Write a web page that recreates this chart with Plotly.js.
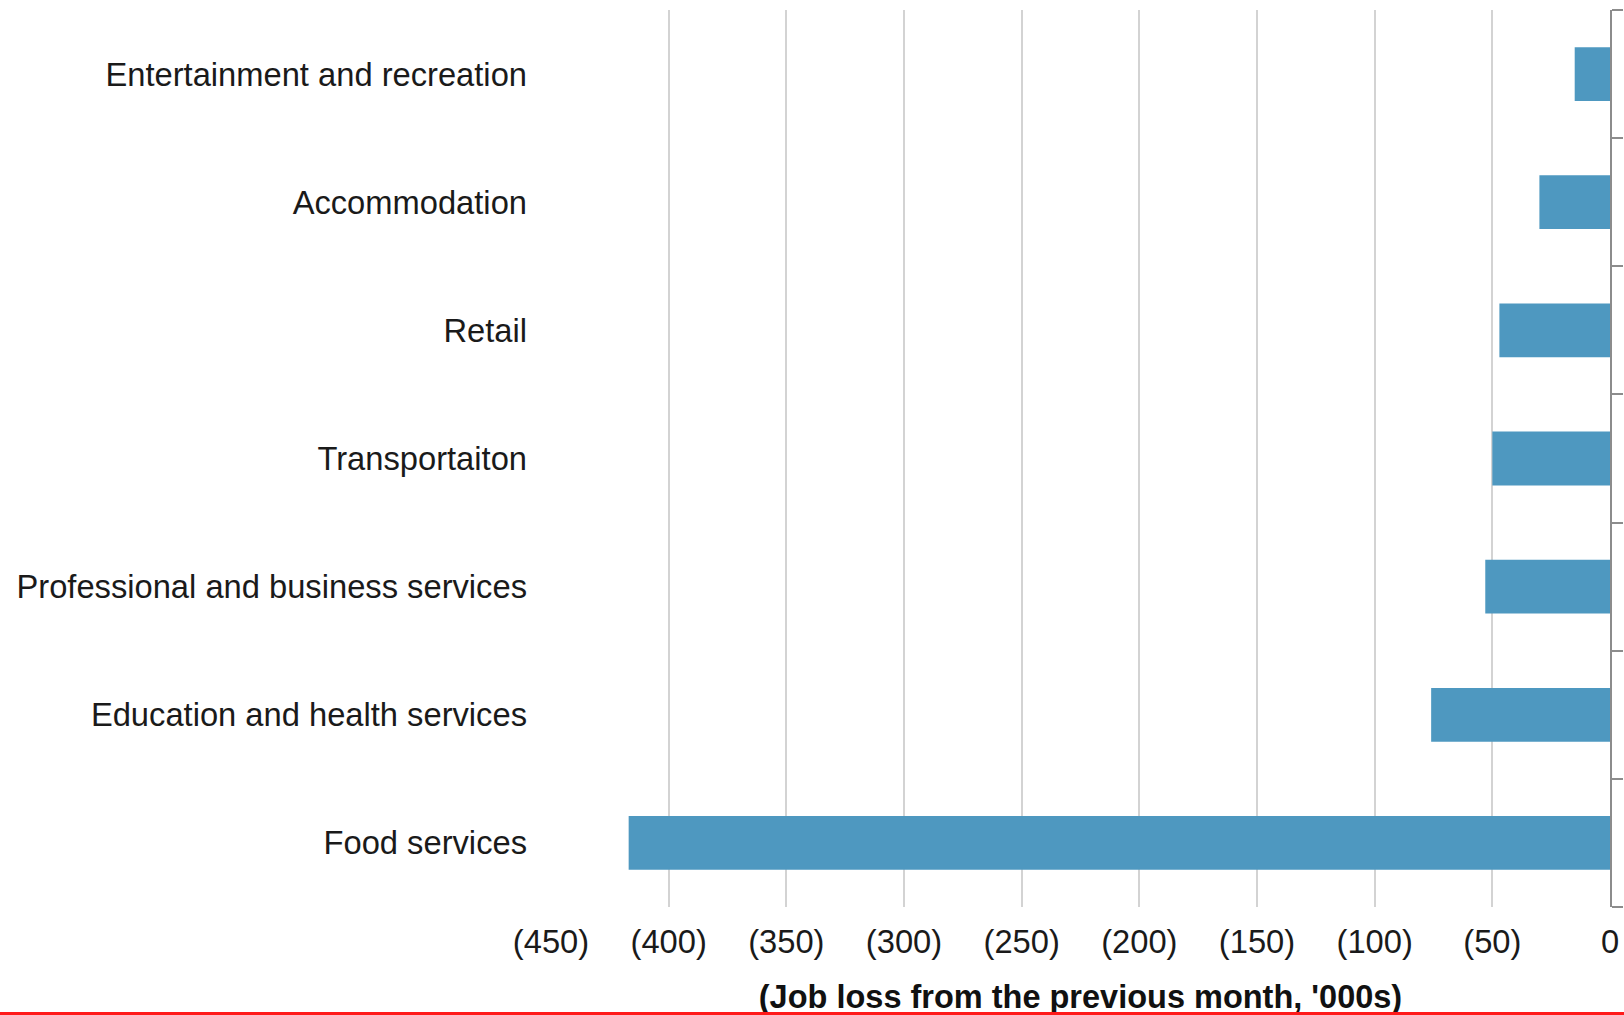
<!DOCTYPE html>
<html>
<head>
<meta charset="utf-8">
<script src="https://cdn.plot.ly/plotly-3.0.1.min.js"></script>
<style>
  html, body { margin: 0; padding: 0; background: #ffffff; overflow: hidden; }
  #chart { width: 1624px; height: 1015px; }
  #redline { position: absolute; left: 0; bottom: 0; width: 1624px; height: 3px; background: #ff1a1a; z-index: 10; }
</style>
</head>
<body>
<div id="chart"></div>
<div id="redline"></div>
<script>
// Data (top to bottom as shown)
const categories = [
  "Entertainment and recreation",
  "Accommodation",
  "Retail",
  "Transportaiton",
  "Professional and business services",
  "Education and health services",
  "Food services"
];
const jobLoss = [-15, -30, -47, -50, -53, -76, -417];
const tickValues = [-450, -400, -350, -300, -250, -200, -150, -100, -50, 0];
const tickLabels = ["(450)", "(400)", "(350)", "(300)", "(250)", "(200)", "(150)", "(100)", "(50)", "0"];
const axisTitle = "(Job loss from the previous month, '000s)";

const n = categories.length;
// category boundaries for the right-hand axis ticks
const boundaryTicks = [];
for (let i = 0; i <= n; i++) boundaryTicks.push(i - 0.5);

const font = "Liberation Sans, Arial, Helvetica, sans-serif";

const bars = {
  type: "bar",
  orientation: "h",
  x: jobLoss,
  y: categories,
  width: 0.42,
  marker: { color: "#4e98c0", line: { width: 0 } },
  hoverinfo: "x+y"
};

// empty helper trace so the right-hand axis (line + boundary ticks) is drawn
const axisHolder = {
  type: "scatter",
  mode: "markers",
  x: [],
  y: [],
  yaxis: "y2",
  hoverinfo: "skip",
  showlegend: false
};

const layout = {
  width: 1624,
  height: 1015,
  margin: { l: 551, r: 14, t: 10, b: 108, pad: 0 },
  paper_bgcolor: "#ffffff",
  plot_bgcolor: "#ffffff",
  showlegend: false,
  font: { family: font, size: 32.7, color: "#1a1a1a" },
  xaxis: {
    range: [-450, 0],
    tickvals: tickValues,
    ticktext: tickLabels,
    showgrid: true,
    gridcolor: "#d3d3d3",
    gridwidth: 2,
    zeroline: false,
    showline: false,
    ticks: "",
    ticklabelstandoff: 12,
    tickfont: { family: font, size: 32.7, color: "#1a1a1a" },
    title: {
      text: axisTitle,
      font: { family: font, size: 32.5, color: "#111111", weight: "bold" },
      standoff: 40
    },
    automargin: false,
    fixedrange: true
  },
  yaxis: {
    type: "category",
    categoryorder: "array",
    categoryarray: categories,
    range: [n - 0.5, -0.5],
    side: "left",
    showgrid: false,
    zeroline: false,
    showline: false,
    ticks: "",
    ticklabelstandoff: 23,
    tickfont: { family: font, size: 32.7, color: "#1a1a1a" },
    automargin: false,
    fixedrange: true
  },
  yaxis2: {
    overlaying: "y",
    anchor: "x",
    side: "right",
    type: "linear",
    range: [n - 0.5, -0.5],
    tickvals: boundaryTicks,
    showticklabels: false,
    showgrid: false,
    zeroline: false,
    showline: true,
    linecolor: "#8c8c8c",
    linewidth: 2,
    ticks: "outside",
    ticklen: 11,
    tickwidth: 2,
    tickcolor: "#8c8c8c",
    automargin: false,
    fixedrange: true
  }
};

Plotly.newPlot("chart", [bars, axisHolder], layout, { displayModeBar: false, staticPlot: true });
</script>
</body>
</html>
